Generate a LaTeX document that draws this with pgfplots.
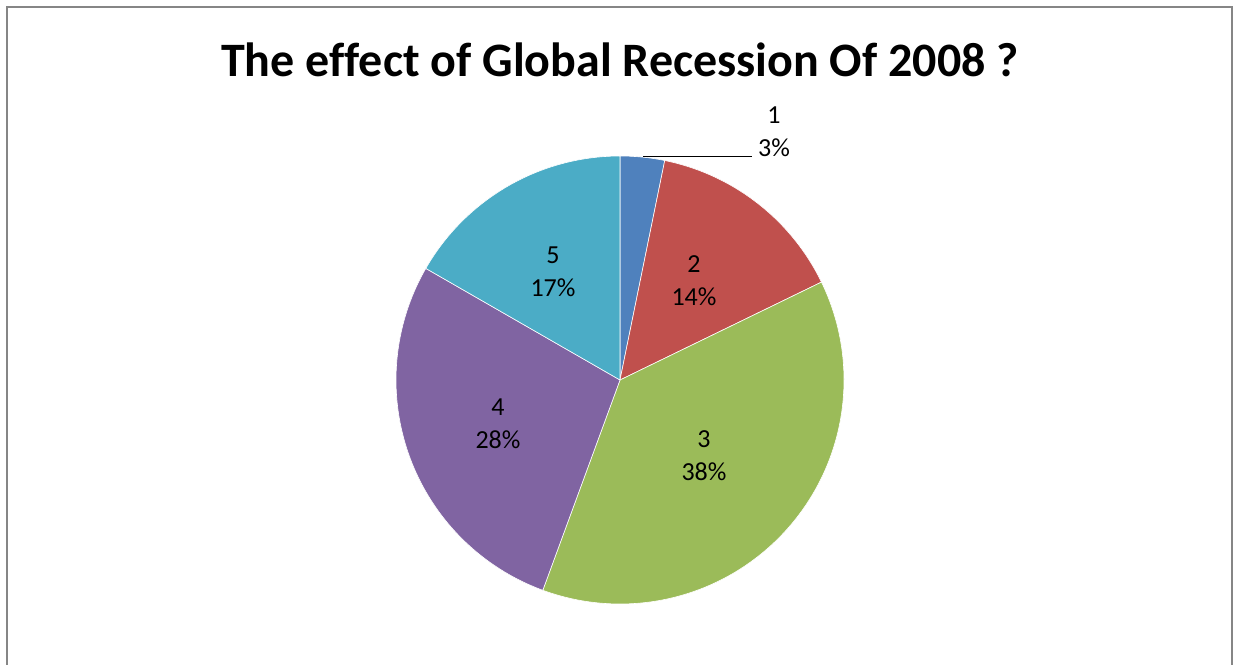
\documentclass[border=0pt]{standalone}
\usepackage{pgfplots}
\pgfplotsset{compat=1.18}
\usepackage{fontspec}
\setmainfont{Carlito}
\definecolor{cA}{HTML}{4F81BD}
\definecolor{cB}{HTML}{C0504D}
\definecolor{cC}{HTML}{9BBB59}
\definecolor{cD}{HTML}{8064A2}
\definecolor{cE}{HTML}{4BACC6}
\definecolor{frame}{RGB}{134,134,134}
\tikzset{lbl/.style={font=\fontsize{13}{16.5}\selectfont,align=center,inner sep=0pt}}
\begin{document}
\begin{tikzpicture}
\def\cx{620}\def\cy{284}\def\r{224}
% slice values (percent)
\def\vA{3.2}\def\vB{14.6}\def\vC{37.8}\def\vD{27.7}\def\vE{16.7}
\pgfmathsetmacro\aA{90}
\pgfmathsetmacro\aB{\aA-3.6*\vA}
\pgfmathsetmacro\aC{\aB-3.6*\vB}
\pgfmathsetmacro\aD{\aC-3.6*\vC}
\pgfmathsetmacro\aE{\aD-3.6*\vD}
\pgfmathsetmacro\aF{\aE-3.6*\vE}
\useasboundingbox (0,0) rectangle (620pt,332pt);
\begin{axis}[x=0.5pt,y=0.5pt,xmin=0,xmax=1240,ymin=0,ymax=664,
  hide axis,clip=false,at={(0,0)},anchor=origin]
\addplot[fill=cA,draw=white,line width=0.3pt,domain=\aB:\aA,samples=30] ({\cx+\r*cos(x)},{\cy+\r*sin(x)}) -- (\cx,\cy) -- cycle;
\addplot[fill=cB,draw=white,line width=0.3pt,domain=\aC:\aB,samples=80] ({\cx+\r*cos(x)},{\cy+\r*sin(x)}) -- (\cx,\cy) -- cycle;
\addplot[fill=cC,draw=white,line width=0.3pt,domain=\aD:\aC,samples=150] ({\cx+\r*cos(x)},{\cy+\r*sin(x)}) -- (\cx,\cy) -- cycle;
\addplot[fill=cD,draw=white,line width=0.3pt,domain=\aE:\aD,samples=120] ({\cx+\r*cos(x)},{\cy+\r*sin(x)}) -- (\cx,\cy) -- cycle;
\addplot[fill=cE,draw=white,line width=0.3pt,domain=\aF:\aE,samples=80] ({\cx+\r*cos(x)},{\cy+\r*sin(x)}) -- (\cx,\cy) -- cycle;
\addplot[black,line width=0.75pt] coordinates {(643,507.3) (752,507.3)};
\node[lbl] at (774,532) {1\\3\%};
\node[lbl] at (694,383) {2\\14\%};
\node[lbl] at (553,392) {5\\17\%};
\node[lbl] at (704,208) {3\\38\%};
\node[lbl] at (498,240) {4\\28\%};
\node[anchor=base,inner sep=0pt,font=\fontsize{24}{30}\selectfont\bfseries] at (620,587) {The ef\kern0pt fect of Global Recession Of 2008 ?};
\draw[frame,line width=1pt] (6.5,-10) -- (6.5,656.5) -- (1232,656.5) -- (1232,-10);
\end{axis}
\end{tikzpicture}
\end{document}
